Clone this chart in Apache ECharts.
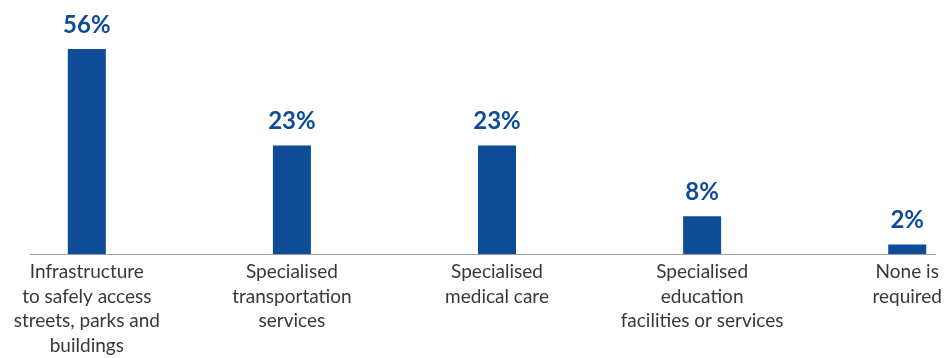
<!DOCTYPE html>
<html>
<head>
<meta charset="utf-8">
<script src="https://cdn.jsdelivr.net/npm/echarts@6/dist/echarts.min.js"></script>
<style>
  html, body { margin: 0; padding: 0; background: #ffffff; }
  #chart { width: 945px; height: 358px; }
</style>
</head>
<body>
<div id="chart"></div>
<script>
// Support needed, share of respondents (%)
const categories = [
  'Infrastructure\nto safely access\nstreets, parks and\nbuildings',
  'Specialised\ntransportation\nservices',
  'Specialised\nmedical care',
  'Specialised\neducation\nfacilities or services',
  'None is\nrequired'
];
const values = [56, 23, 23, 8, 2];
const positions = [0, 1, 2, 3, 4];

const chart = echarts.init(document.getElementById('chart'), null, { renderer: 'canvas' });

const blue = '#0e4c98';

chart.setOption({
  animation: false,
  backgroundColor: '#ffffff',
  grid: { left: 30, right: 0, top: 49, bottom: 104, containLabel: false },
  xAxis: {
    type: 'value',
    min: -0.277,
    max: 4.139,
    splitLine: { show: false },
    axisTick: { show: false },
    axisLine: { show: true, onZero: false, lineStyle: { color: '#a0a0a0', width: 1 } },
    axisLabel: {
      customValues: positions,
      formatter: v => categories[Math.round(v)],
      color: '#383838',
      fontFamily: 'Lato',
      fontSize: 19,
      lineHeight: 24.5,
      margin: 6,
      align: 'center'
    }
  },
  yAxis: {
    type: 'value',
    min: 0,
    max: 43.5,
    show: false
  },
  series: [{
    type: 'bar',
    barWidth: 38,
    clip: true,
    data: values.map((v, i) => [positions[i], v]),
    itemStyle: { color: blue },
    label: {
      show: true,
      position: 'top',
      distance: 12,
      formatter: p => p.value[1] + '%',
      color: blue,
      fontFamily: 'Lato',
      fontWeight: 'bold',
      fontSize: 24
    }
  }]
});
</script>
</body>
</html>
